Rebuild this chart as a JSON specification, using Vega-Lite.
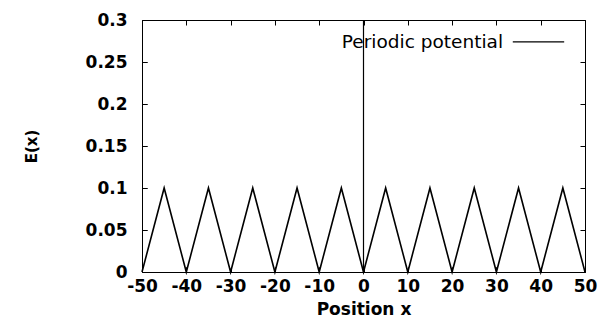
{
  "$schema": "https://vega.github.io/schema/vega-lite/v6.json",
  "width": 443,
  "height": 252,
  "autosize": {"type": "none"},
  "padding": {"left": 142, "top": 20, "right": 17, "bottom": 46},
  "background": "white",
  "config": {
    "view": {"stroke": "black", "strokeWidth": 1},
    "axis": {
      "domain": false,
      "grid": false,
      "ticks": true,
      "tickColor": "black",
      "tickSize": 5,
      "tickWidth": 1,
      "offset": -5,
      "zindex": 2,
      "labelOverlap": false,
      "labelFlush": false,
      "labelColor": "black",
      "labelFont": "DejaVu Sans",
      "labelFontSize": 17,
      "labelFontWeight": "bold",
      "titleColor": "black",
      "titleFont": "DejaVu Sans",
      "titleFontSize": 17,
      "titleFontWeight": "bold"
    }
  },
  "resolve": {"axis": {"x": "independent", "y": "independent"}},
  "layer": [
    {
      "data": {"values": [
        {"x": -50, "E": 0}, {"x": -45, "E": 0.1}, {"x": -40, "E": 0}, {"x": -35, "E": 0.1},
        {"x": -30, "E": 0}, {"x": -25, "E": 0.1}, {"x": -20, "E": 0}, {"x": -15, "E": 0.1},
        {"x": -10, "E": 0}, {"x": -5, "E": 0.1}, {"x": 0, "E": 0}, {"x": 5, "E": 0.1},
        {"x": 10, "E": 0}, {"x": 15, "E": 0.1}, {"x": 20, "E": 0}, {"x": 25, "E": 0.1},
        {"x": 30, "E": 0}, {"x": 35, "E": 0.1}, {"x": 40, "E": 0}, {"x": 45, "E": 0.1},
        {"x": 50, "E": 0}
      ]},
      "mark": {"type": "line", "color": "black", "strokeWidth": 1.6},
      "encoding": {
        "x": {"field": "x", "type": "quantitative", "scale": {"domain": [-50, 50], "nice": false, "zero": false},
              "axis": {"orient": "bottom", "values": [-50,-40,-30,-20,-10,0,10,20,30,40,50], "title": "Position x",
                       "labelExpr": "toString(datum.value)",
                       "labelPadding": 6, "titleY": 42, "titleBaseline": "middle"}},
        "y": {"field": "E", "type": "quantitative", "scale": {"domain": [0, 0.3], "nice": false},
              "axis": {"orient": "left", "values": [0,0.05,0.1,0.15,0.2,0.25,0.3], "format": "~g", "title": "E(x)",
                       "labelPadding": 15, "titleX": -116, "titleY": 126, "titleBaseline": "middle", "titleAngle": -90, "titleFontSize": 15}}
      }
    },
    {
      "data": {"values": [{"x": 0, "y": 0, "y2": 0.3}]},
      "mark": {"type": "rule", "color": "black", "strokeWidth": 1.2},
      "encoding": {
        "x": {"field": "x", "type": "quantitative", "scale": {"domain": [-50, 50], "nice": false, "zero": false},
              "axis": {"orient": "top", "values": [-50,-40,-30,-20,-10,0,10,20,30,40,50], "labels": false, "title": null}},
        "y": {"field": "y", "type": "quantitative", "scale": {"domain": [0, 0.3], "nice": false},
              "axis": {"orient": "right", "values": [0,0.05,0.1,0.15,0.2,0.25,0.3], "labels": false, "title": null}},
        "y2": {"field": "y2"}
      }
    },
    {
      "data": {"values": [{"label": "Periodic potential", "x": 31.5, "y": 0.274}]},
      "mark": {"type": "text", "align": "right", "baseline": "middle", "font": "DejaVu Sans", "fontSize": 18.5, "color": "black"},
      "encoding": {
        "x": {"field": "x", "type": "quantitative", "scale": {"domain": [-50, 50], "nice": false, "zero": false},
              "axis": {"orient": "bottom", "values": [-50,-40,-30,-20,-10,0,10,20,30,40,50], "labels": false, "title": null}},
        "y": {"field": "y", "type": "quantitative", "scale": {"domain": [0, 0.3], "nice": false},
              "axis": {"orient": "left", "values": [0,0.05,0.1,0.15,0.2,0.25,0.3], "labels": false, "title": null}},
        "text": {"field": "label"}
      }
    },
    {
      "data": {"values": [{"x": 33.7, "x2": 45.3, "y": 0.274}]},
      "mark": {"type": "rule", "color": "black", "strokeWidth": 1.2},
      "encoding": {
        "x": {"field": "x", "type": "quantitative", "scale": {"domain": [-50, 50], "nice": false, "zero": false}, "axis": null},
        "x2": {"field": "x2"},
        "y": {"field": "y", "type": "quantitative", "scale": {"domain": [0, 0.3], "nice": false}, "axis": null}
      }
    }
  ]
}
